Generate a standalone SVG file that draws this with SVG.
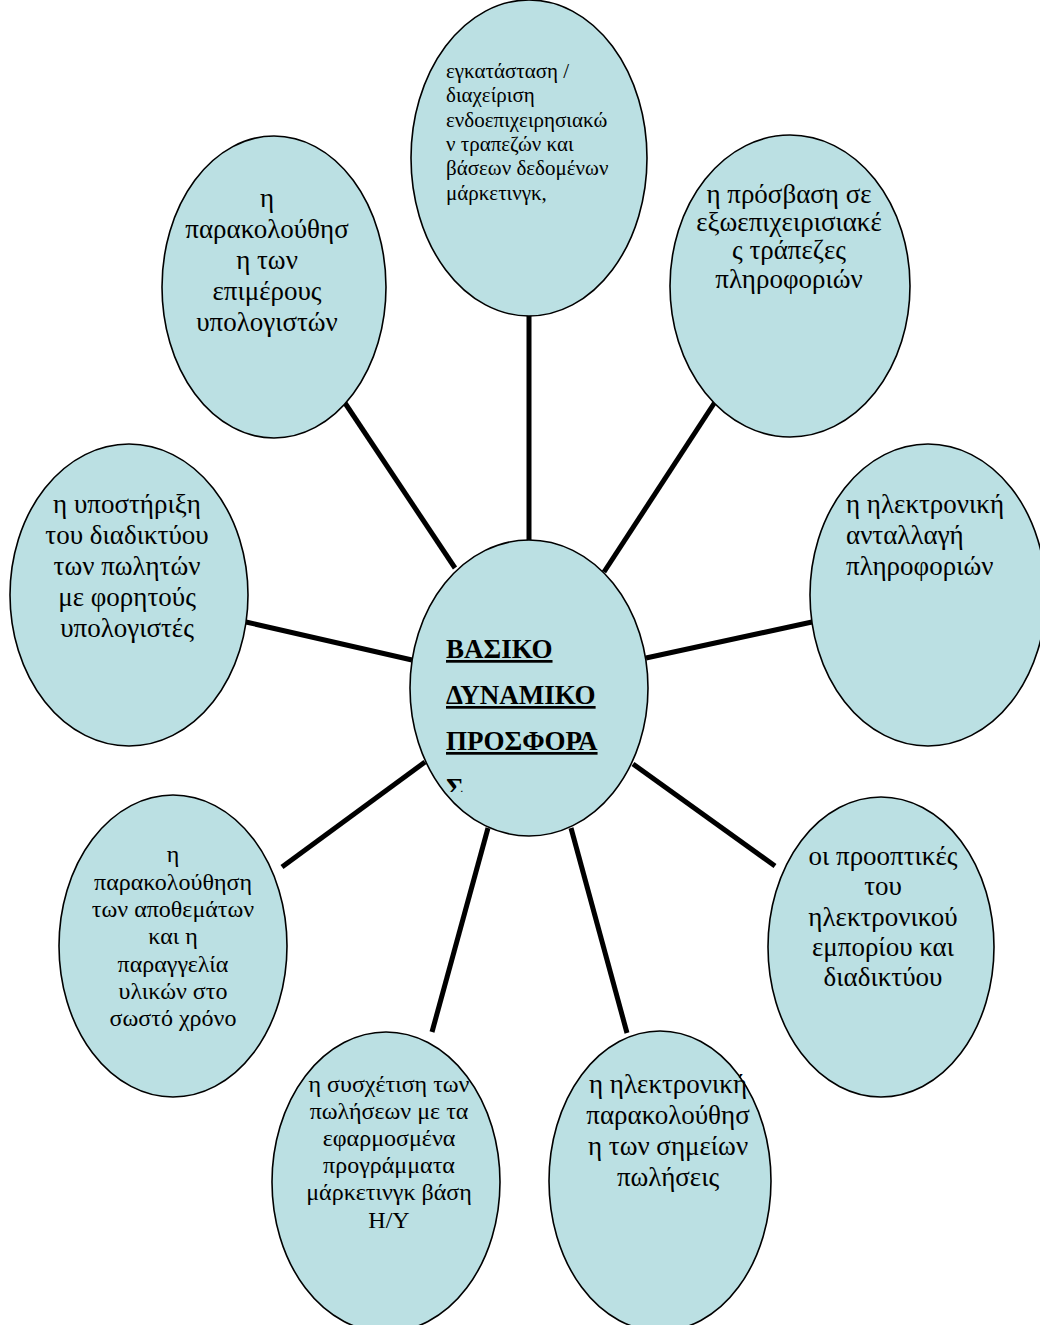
<svg xmlns="http://www.w3.org/2000/svg" width="1040" height="1325" viewBox="0 0 1040 1325">
<defs>
<style>
.bg{fill:#ffffff}
.node{fill:#bbe0e3;stroke:#000;stroke-width:1.6}
.conn line{stroke:#000;stroke-width:5;stroke-linecap:butt}
.t{font-family:"Liberation Serif","DejaVu Serif","Times New Roman",serif;fill:#000}
.c{text-anchor:middle}
.big{font-size:27px}
.mid{font-size:24px}
.sm{font-size:21px}
.hd{font-size:27px;font-weight:bold;text-decoration:underline}
</style>
<clipPath id="cclip"><rect x="400" y="540" width="260" height="252"/></clipPath>
</defs>
<rect class="bg" x="0" y="0" width="1040" height="1325"/>
<g id="connectors" class="conn">
<line x1="529" y1="315" x2="529" y2="541"/>
<line x1="345" y1="403" x2="455" y2="568"/>
<line x1="715" y1="402" x2="604" y2="572"/>
<line x1="246" y1="622" x2="412" y2="660"/>
<line x1="812" y1="622" x2="646" y2="658"/>
<line x1="282" y1="867" x2="425" y2="762"/>
<line x1="775" y1="866" x2="633" y2="764"/>
<line x1="432" y1="1032" x2="488" y2="828"/>
<line x1="627" y1="1033" x2="571" y2="828"/>
</g>
<g id="n-top">
<ellipse class="node" cx="529" cy="158" rx="118" ry="158"/>
<text class="t sm"><tspan x="446" y="78">εγκατάσταση /</tspan><tspan x="446" y="102">διαχείριση</tspan><tspan x="446" y="127">ενδοεπιχειρησιακώ</tspan><tspan x="446" y="151">ν τραπεζών και</tspan><tspan x="446" y="175">βάσεων δεδομένων</tspan><tspan x="446" y="200">μάρκετινγκ,</tspan></text>
</g>
<g id="n-topright">
<ellipse class="node" cx="790" cy="286" rx="120" ry="151"/>
<text class="t big c"><tspan x="789" y="203">η πρόσβαση σε</tspan><tspan x="789" y="231">εξωεπιχειρισιακέ</tspan><tspan x="789" y="259">ς τράπεζες</tspan><tspan x="789" y="288">πληροφοριών</tspan></text>
</g>
<g id="n-right">
<ellipse class="node" cx="928" cy="595" rx="118" ry="151"/>
<text class="t big"><tspan x="846" y="513">η ηλεκτρονική</tspan><tspan x="846" y="544">ανταλλαγή</tspan><tspan x="846" y="575">πληροφοριών</tspan></text>
</g>
<g id="n-lowerright">
<ellipse class="node" cx="881" cy="947" rx="113" ry="150"/>
<text class="t big c"><tspan x="883" y="865">οι προοπτικές</tspan><tspan x="883" y="895">του</tspan><tspan x="883" y="926">ηλεκτρονικού</tspan><tspan x="883" y="956">εμπορίου και</tspan><tspan x="883" y="986">διαδικτύου</tspan></text>
</g>
<g id="n-bottomright">
<ellipse class="node" cx="660" cy="1181" rx="111" ry="150"/>
<text class="t big c"><tspan x="668" y="1093">η ηλεκτρονική</tspan><tspan x="668" y="1124">παρακολούθησ</tspan><tspan x="668" y="1155">η των σημείων</tspan><tspan x="668" y="1186">πωλήσεις</tspan></text>
</g>
<g id="n-bottomleft">
<ellipse class="node" cx="386" cy="1182" rx="114" ry="150"/>
<text class="t mid c"><tspan x="389" y="1092">η συσχέτιση των</tspan><tspan x="389" y="1119">πωλήσεων με τα</tspan><tspan x="389" y="1146">εφαρμοσμένα</tspan><tspan x="389" y="1173">προγράμματα</tspan><tspan x="389" y="1200">μάρκετινγκ βάση</tspan><tspan x="389" y="1228">Η/Υ</tspan></text>
</g>
<g id="n-lowerleft">
<ellipse class="node" cx="173" cy="946" rx="114" ry="151"/>
<text class="t mid c"><tspan x="173" y="862">η</tspan><tspan x="173" y="890">παρακολούθηση</tspan><tspan x="173" y="917">των αποθεμάτων</tspan><tspan x="173" y="944">και η</tspan><tspan x="173" y="972">παραγγελία</tspan><tspan x="173" y="999">υλικών στο</tspan><tspan x="173" y="1026">σωστό χρόνο</tspan></text>
</g>
<g id="n-left">
<ellipse class="node" cx="129" cy="595" rx="119" ry="151"/>
<text class="t big c"><tspan x="127" y="513">η υποστήριξη</tspan><tspan x="127" y="544">του διαδικτύου</tspan><tspan x="127" y="575">των πωλητών</tspan><tspan x="127" y="606">με φορητούς</tspan><tspan x="127" y="637">υπολογιστές</tspan></text>
</g>
<g id="n-topleft">
<ellipse class="node" cx="274" cy="287" rx="112" ry="151"/>
<text class="t big c"><tspan x="267" y="207">η</tspan><tspan x="267" y="238">παρακολούθησ</tspan><tspan x="267" y="269">η των</tspan><tspan x="267" y="300">επιμέρους</tspan><tspan x="267" y="331">υπολογιστών</tspan></text>
</g>
<g id="n-center">
<ellipse class="node" cx="529" cy="688" rx="119" ry="148"/>
<text class="t hd" clip-path="url(#cclip)"><tspan x="446" y="658">ΒΑΣΙΚΟ</tspan><tspan x="446" y="704">ΔΥΝΑΜΙΚΟ</tspan><tspan x="446" y="750">ΠΡΟΣΦΟΡΑ</tspan><tspan x="446" y="797">Σ</tspan></text>
</g>
</svg>
